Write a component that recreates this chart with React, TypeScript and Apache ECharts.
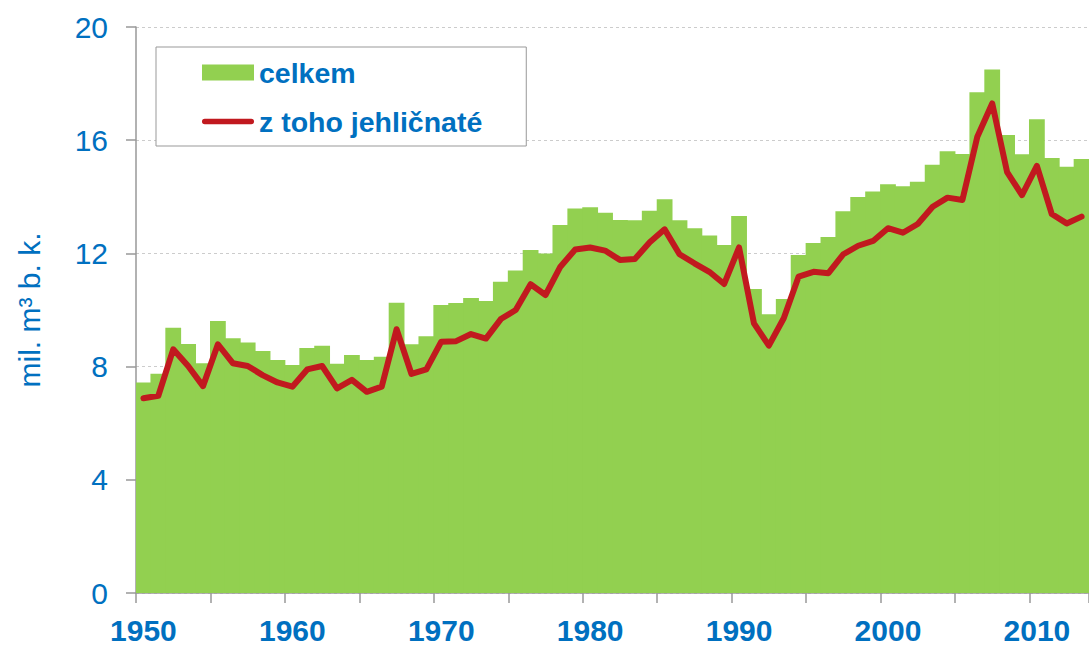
import React, { useEffect, useRef } from "react";
import * as echarts from "echarts";

const years = [
  "1950", "1951", "1952", "1953", "1954", "1955", "1956", "1957", "1958", "1959",
  "1960", "1961", "1962", "1963", "1964", "1965", "1966", "1967", "1968", "1969",
  "1970", "1971", "1972", "1973", "1974", "1975", "1976", "1977", "1978", "1979",
  "1980", "1981", "1982", "1983", "1984", "1985", "1986", "1987", "1988", "1989",
  "1990", "1991", "1992", "1993", "1994", "1995", "1996", "1997", "1998", "1999",
  "2000", "2001", "2002", "2003", "2004", "2005", "2006", "2007", "2008", "2009",
  "2010", "2011", "2012", "2013",
];

const celkem = [
  7.44, 7.75, 9.37, 8.8, 8.12, 9.61, 9.0, 8.85, 8.55, 8.23,
  8.06, 8.66, 8.74, 8.1, 8.41, 8.23, 8.35, 10.26, 8.79, 9.07,
  10.18, 10.25, 10.42, 10.32, 11.0, 11.4, 12.12, 12.0, 13.0, 13.59,
  13.63, 13.44, 13.18, 13.17, 13.51, 13.91, 13.17, 12.89, 12.63, 12.3,
  13.32, 10.74, 9.85, 10.39, 11.94, 12.37, 12.58, 13.49, 13.99, 14.19,
  14.44, 14.37, 14.53, 15.13, 15.61, 15.51, 17.69, 18.5, 16.18, 15.5,
  16.74, 15.37, 15.06, 15.34,
];

const jehlicnate = [
  6.88, 6.97, 8.61, 8.02, 7.31, 8.79, 8.12, 8.02, 7.7, 7.44,
  7.29, 7.9, 8.02, 7.23, 7.53, 7.11, 7.29, 9.32, 7.74, 7.9,
  8.88, 8.9, 9.15, 8.99, 9.68, 10.0, 10.91, 10.53, 11.53, 12.14,
  12.21, 12.1, 11.77, 11.8, 12.39, 12.85, 11.97, 11.65, 11.35, 10.92,
  12.21, 9.53, 8.74, 9.71, 11.18, 11.35, 11.3, 11.97, 12.27, 12.44,
  12.89, 12.73, 13.04, 13.65, 13.97, 13.89, 16.12, 17.3, 14.87, 14.06,
  15.09, 13.39, 13.06, 13.3,
];

const seriesNames = ["celkem", "z toho jehličnaté"];
const yAxisName = "mil. m³ b. k.";

const BLUE = "#0070C0";
const GREEN = "#92D050";
const RED = "#C1191F";
const AXIS = "#999999";
const FONT = "Liberation Sans, Arial, sans-serif";

export default function App() {
  const ref = useRef<HTMLDivElement>(null);

  useEffect(() => {
    if (!ref.current) return;
    const chart = echarts.init(ref.current, null, { renderer: "svg" });
    chart.setOption({
      animation: false,
      backgroundColor: "#ffffff",
      textStyle: { fontFamily: FONT },
      grid: { left: 136, right: -3, top: 27, bottom: 53, containLabel: false },
      legend: {
        orient: "vertical",
        left: 156,
        top: 47,
        padding: [11, 44, 10, 46],
        itemWidth: 52,
        itemHeight: 16,
        itemGap: 20,
        borderColor: "#999999",
        borderWidth: 1,
        backgroundColor: "#ffffff",
        textStyle: { color: BLUE, fontSize: 28.5, fontWeight: "bold", fontFamily: FONT },
        data: [
          { name: seriesNames[0], icon: "rect" },
          {
            name: seriesNames[1],
            icon: "path://M3,0 L54,0 A3,3 0 0 1 54,6 L3,6 A3,3 0 0 1 3,0 Z",
            itemStyle: { color: RED },
          },
        ],
      },
      xAxis: {
        type: "category",
        data: years,
        boundaryGap: true,
        axisLine: { lineStyle: { color: AXIS, width: 1.5 } },
        axisTick: { show: true, interval: 4, length: 10, lineStyle: { color: AXIS, width: 1.5 } },
        axisLabel: {
          interval: 9,
          color: BLUE,
          fontSize: 30,
          fontWeight: "bold",
          fontFamily: FONT,
          margin: 22,
        },
        splitLine: { show: false },
      },
      yAxis: {
        type: "value",
        min: 0,
        max: 20,
        interval: 4,
        name: yAxisName,
        nameLocation: "middle",
        nameGap: 92,
        nameRotate: 90,
        nameTextStyle: { color: BLUE, fontSize: 30, fontFamily: FONT },
        axisLine: { show: true, lineStyle: { color: AXIS, width: 1.5 } },
        axisTick: { show: true, length: 10, lineStyle: { color: AXIS, width: 1.5 } },
        axisLabel: { color: BLUE, fontSize: 30, fontFamily: FONT, margin: 28 },
        splitLine: { show: true, lineStyle: { color: "#cccccc", type: [3, 3], width: 1 } },
      },
      series: [
        {
          name: seriesNames[0],
          type: "bar",
          data: celkem,
          barCategoryGap: "0%",
          barWidth: "106%",
          itemStyle: { color: GREEN, borderWidth: 0 },
          emphasis: { disabled: true },
        },
        {
          name: seriesNames[1],
          type: "line",
          data: jehlicnate,
          symbol: "none",
          showSymbol: false,
          lineStyle: { color: RED, width: 6, join: "round", cap: "round" },
          itemStyle: { color: RED },
          emphasis: { disabled: true },
        },
      ],
    });
    return () => chart.dispose();
  }, []);

  return (
    <div
      ref={ref}
      style={{ position: "absolute", left: 0, top: 0, width: 1089, height: 646 }}
    />
  );
}
